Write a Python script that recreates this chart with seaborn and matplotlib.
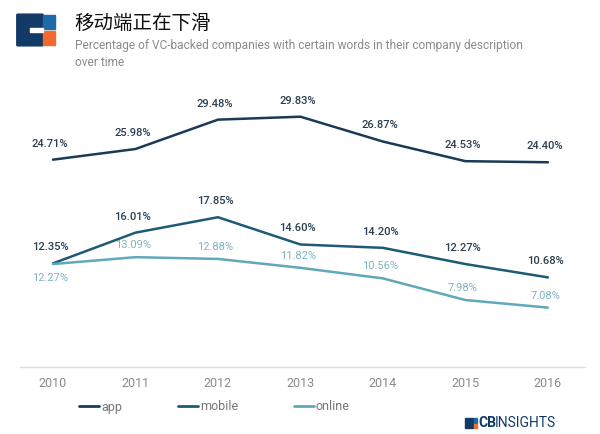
import matplotlib.pyplot as plt
import matplotlib.patches as mpatches
from matplotlib.lines import Line2D
import pandas as pd
import seaborn as sns

# data
years = [2010, 2011, 2012, 2013, 2014, 2015, 2016]
app = [24.71, 25.98, 29.48, 29.83, 26.87, 24.53, 24.40]
mobile = [12.35, 16.01, 17.85, 14.60, 14.20, 12.27, 10.68]
online = [12.27, 13.09, 12.88, 11.82, 10.56, 7.98, 7.08]
series = ["app", "mobile", "online"]

colors = {"app": "#1b3a57", "mobile": "#1d5a75", "online": "#5fa9b9"}
label_colors = {"app": "#2b3f50", "mobile": "#2b3f50", "online": "#7fb3bf"}

df = pd.DataFrame({
    "year": years * 3,
    "value": app + mobile + online,
    "word": ["app"] * 7 + ["mobile"] * 7 + ["online"] * 7,
})

sns.set_style("white")
plt.rcParams["font.family"] = ["Roboto", "DejaVu Sans"]

fig = plt.figure(figsize=(6, 4.34), dpi=100)
W, H = 600, 434
ax = fig.add_axes([20 / W, (H - 367) / H, 565 / W, 292 / H])

sns.lineplot(data=df, x="year", y="value", hue="word", palette=colors,
             linewidth=1.8, legend=False, ax=ax)

ax.set_xlim(2009.6, 2016.45)
ax.set_ylim(0, 34.8)
ax.set_xticks(years)
ax.set_xticklabels([str(y) for y in years], color="#8a8a8a", fontsize=9)
ax.set_yticks([])
ax.set_xlabel("")
ax.set_ylabel("")
ax.tick_params(axis="x", length=0, pad=7)
for s in ["top", "left", "right"]:
    ax.spines[s].set_visible(False)
ax.spines["bottom"].set_color("#dddddd")
ax.spines["bottom"].set_linewidth(1)

# data labels
vals = {"app": app, "mobile": mobile, "online": online}
for w in series:
    for i, (x, v) in enumerate(zip(years, vals[w])):
        dy = 8 if w != "online" else 5
        if w == "online" and i == 0:
            dy = -14
        ax.annotate(f"{v:.2f}%", (x, v), xytext=(-2, dy), textcoords="offset points",
                    ha="center", va="bottom",
                    fontsize=8, color=label_colors[w],
                    fontweight="medium" if w != "online" else "normal")

# legend
handles = [Line2D([0], [0], color=colors[w], lw=2) for w in series]
fig.legend(handles, series, loc="center left", bbox_to_anchor=(68 / W, 1 - 407 / H),
           ncol=3, frameon=False, fontsize=9, handlelength=1.6, handletextpad=0.2,
           columnspacing=4.4, labelcolor="#777777")

# header logo
fig.patches.append(mpatches.FancyBboxPatch((18 / W, 1 - 45 / H), 24 / W, 30 / H,
                   boxstyle="round,pad=0.002", transform=fig.transFigure,
                   color="#123a67", figure=fig))
fig.patches.append(mpatches.Rectangle((43 / W, 1 - 29 / H), 12 / W, 14 / H,
                   transform=fig.transFigure, color="#1e69a8", figure=fig))
fig.patches.append(mpatches.Rectangle((43 / W, 1 - 45 / H), 12 / W, 14 / H,
                   transform=fig.transFigure, color="#f26a2e", figure=fig))
fig.patches.append(mpatches.Rectangle((30 / W, 1 - 32 / H), 13 / W, 4 / H,
                   transform=fig.transFigure, color="white", figure=fig))

fig.text(74 / W, 1 - 23 / H, "移动端正在下滑", fontsize=14, color="#111111",
         va="center", ha="left", family=["Noto Sans CJK SC", "DejaVu Sans"])
fig.text(75 / W, 1 - 46 / H, "Percentage of VC-backed companies with certain words in their company description",
         fontsize=8.6, color="#8a8a8a", va="center", ha="left")
fig.text(75 / W, 1 - 63 / H, "over time", fontsize=8.6, color="#8a8a8a",
         va="center", ha="left")

# footer logo
fig.patches.append(mpatches.Rectangle((465 / W, 1 - 428 / H), 8 / W, 10 / H,
                   transform=fig.transFigure, color="#123a67", figure=fig))
fig.patches.append(mpatches.Rectangle((474 / W, 1 - 423 / H), 3 / W, 5 / H,
                   transform=fig.transFigure, color="#1e69a8", figure=fig))
fig.patches.append(mpatches.Rectangle((474 / W, 1 - 428 / H), 3 / W, 4 / H,
                   transform=fig.transFigure, color="#f26a2e", figure=fig))
fig.text(478 / W, 1 - 423 / H, "CB", fontsize=10, fontweight="bold",
         color="#123a67", va="center", ha="left")
fig.text(495 / W, 1 - 423 / H, "INSIGHTS", fontsize=10, color="#123a67",
         va="center", ha="left")

fig.savefig("out.png", dpi=100, facecolor="white")
